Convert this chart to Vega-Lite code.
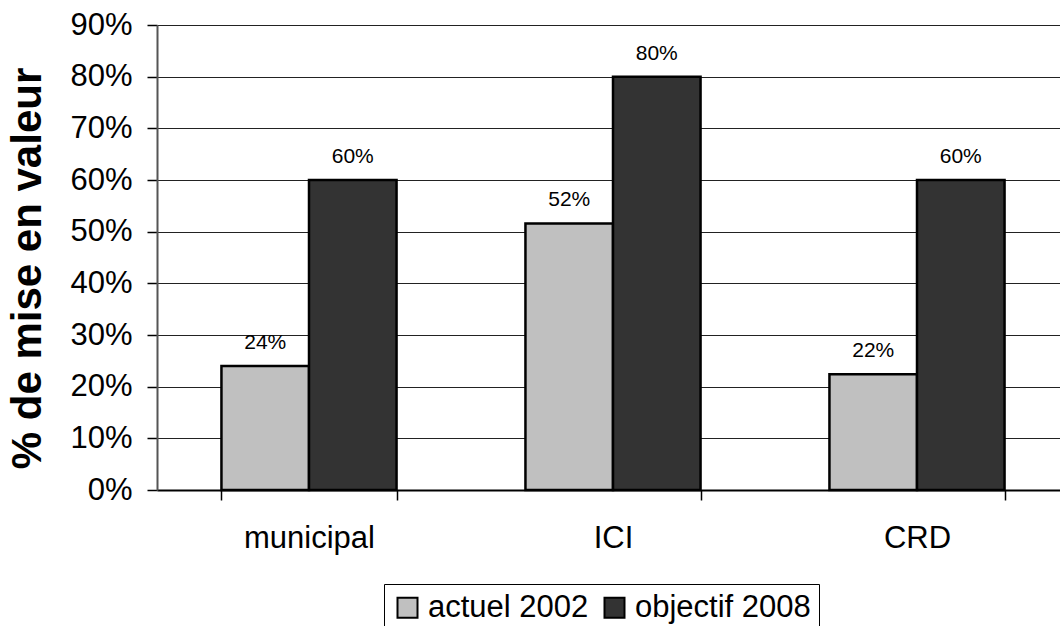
{
  "$schema": "https://vega.github.io/schema/vega-lite/v6.json",
  "width": 903,
  "height": 465,
  "autosize": {"type": "none"},
  "padding": {"left": 157, "top": 25, "right": 0, "bottom": 136},
  "background": "white",
  "config": {
    "font": "Liberation Sans",
    "view": {"stroke": null}
  },
  "data": {
    "values": [
      {"cat": "municipal", "serie": "actuel 2002", "value": 0.24},
      {"cat": "municipal", "serie": "objectif 2008", "value": 0.60},
      {"cat": "ICI", "serie": "actuel 2002", "value": 0.516},
      {"cat": "ICI", "serie": "objectif 2008", "value": 0.80},
      {"cat": "CRD", "serie": "actuel 2002", "value": 0.224},
      {"cat": "CRD", "serie": "objectif 2008", "value": 0.60}
    ]
  },
  "encoding": {
    "x": {
      "field": "cat",
      "type": "nominal",
      "sort": ["municipal", "ICI", "CRD"],
      "scale": {"range": [0, 912], "paddingInner": 0.424, "paddingOuter": 0.212},
      "axis": {
        "title": null,
        "labelAngle": 0,
        "labelFontSize": 31,
        "labelColor": "#000",
        "labelFont": "Liberation Sans",
        "labelBaseline": "alphabetic",
        "labelPadding": 47,
        "tickBand": "extent",
        "tickSize": 10,
        "tickColor": "#000",
        "tickWidth": 1.5,
        "domainColor": "#000",
        "domainWidth": 2,
        "grid": false
      }
    },
    "xOffset": {"field": "serie", "type": "nominal", "scale": {"paddingInner": 0, "paddingOuter": 0}},
    "y": {
      "field": "value",
      "type": "quantitative",
      "scale": {"domain": [0, 0.9], "nice": false},
      "axis": {
        "values": [0, 0.1, 0.2, 0.3, 0.4, 0.5, 0.6, 0.7, 0.8, 0.9],
        "format": ".0%",
        "labelFontSize": 31,
        "labelColor": "#000",
        "labelPadding": 15,
        "tickSize": 10,
        "tickColor": "#000",
        "tickWidth": 1.5,
        "domainColor": "#555",
        "domainWidth": 2,
        "grid": true,
        "gridColor": "#222",
        "gridWidth": 1.2,
        "title": "% de mise en valeur",
        "titleFontSize": 42,
        "titleFontWeight": "bold",
        "titleColor": "#000",
        "titleAngle": -90,
        "titleAlign": "center",
        "titleBaseline": "alphabetic",
        "titleX": -117,
        "titleY": 243
      }
    }
  },
  "layer": [
    {
      "mark": {"type": "bar", "stroke": "#000", "strokeWidth": 2.5},
      "encoding": {
        "color": {
          "field": "serie",
          "type": "nominal",
          "scale": {"domain": ["actuel 2002", "objectif 2008"], "range": ["#c0c0c0", "#333333"]},
          "legend": {
            "title": null,
            "orient": "none",
            "legendX": 227,
            "legendY": 559,
            "direction": "horizontal",
            "strokeColor": "#000",
            "fillColor": "white",
            "padding": 8,
            "symbolType": "square",
            "symbolSize": 400,
            "symbolStrokeColor": "#000",
            "symbolStrokeWidth": 2,
            "labelFontSize": 31,
            "labelLimit": 400,
            "labelColor": "#000",
            "labelFont": "Liberation Sans",
            "labelOffset": 5,
            "columnPadding": 10
          }
        }
      }
    },
    {
      "mark": {"type": "text", "baseline": "alphabetic", "dy": -17, "fontSize": 21, "color": "#000", "font": "Liberation Sans"},
      "encoding": {
        "text": {"field": "value", "type": "quantitative", "format": ".0%"}
      }
    }
  ]
}
